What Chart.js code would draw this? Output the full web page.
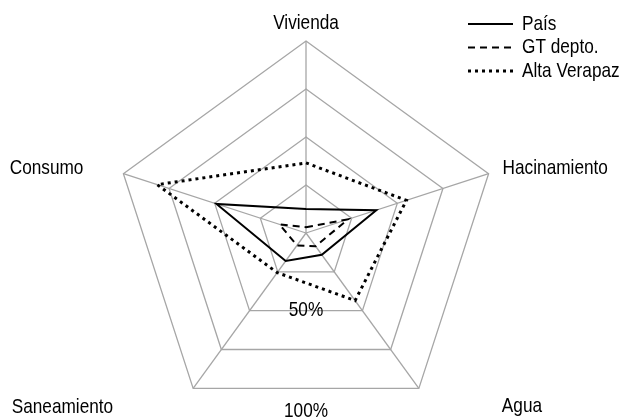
<!DOCTYPE html>
<html>
<head>
<meta charset="utf-8">
<script src="https://cdn.jsdelivr.net/npm/chart.js@4.4.1/dist/chart.umd.min.js"></script>
<style>
  html, body { margin: 0; padding: 0; background: #fff; overflow: hidden; }
  canvas { display: block; }
</style>
</head>
<body>
<canvas id="radar" width="626" height="430"></canvas>
<script>
// Radar: privación por dimensión

const categories = ['Vivienda', 'Hacinamiento', 'Agua', 'Saneamiento', 'Consumo'];
const seriesNames = ['País', 'GT depto.', 'Alta Verapaz'];
const pais = [12.5, 38.5, 14, 18, 49];
const gtDepto = [3, 23, 8.5, 8, 14.5];
const altaVerapaz = [36.5, 55, 43.5, 25.5, 81.5];
const tickValues = [50, 100];
const tickLabels = ['50%', '100%'];

const FONT = '21px "Liberation Sans", Arial, sans-serif';
const NARROW = 0.82; // fake Arial Narrow by squeezing the text
const GRID = '#a6a6a6';

// where the category names sit, relative to each outer vertex
const labelOffsets = [
    { dx: 0, dy: -18, align: 'center' },
    { dx: 14, dy: -5, align: 'left' },
    { dx: 83, dy: 18, align: 'left' },
    { dx: -80, dy: 19, align: 'right' },
    { dx: -40, dy: -5, align: 'right' }
];

function narrowText(ctx, text, x, y) {
    ctx.save();
    ctx.translate(x, y);
    ctx.scale(NARROW, 1);
    ctx.fillText(text, 0, 0);
    ctx.restore();
}

// category names, % labels and legend
const decorations = {
    id: 'decorations',
    afterDraw(chart) {
        const ctx = chart.ctx;
        const r = chart.scales.r;
        ctx.save();
        ctx.font = FONT;
        ctx.fillStyle = '#000';
        ctx.textBaseline = 'middle';

        categories.forEach((name, i) => {
            const p = r.getPointPosition(i, r.drawingArea);
            const o = labelOffsets[i];
            ctx.textAlign = o.align;
            narrowText(ctx, name, p.x + o.dx, p.y + o.dy);
        });

        // percent labels under the bottom edge of the rings
        ctx.textAlign = 'center';
        tickValues.forEach((v, i) => {
            const d = r.getDistanceFromCenterForValue(v) * Math.cos(Math.PI / 5);
            const extra = v === 100 ? 23 : 0;
            narrowText(ctx, tickLabels[i], r.xCenter, r.yCenter + d + extra);
        });

        // legend
        ctx.textAlign = 'left';
        chart.data.datasets.forEach((ds, i) => {
            const y = 24 + i * 23.5;
            ctx.beginPath();
            ctx.lineWidth = ds.borderWidth;
            ctx.setLineDash(ds.borderDash || []);
            ctx.strokeStyle = ds.borderColor;
            ctx.moveTo(468, y);
            ctx.lineTo(513, y);
            ctx.stroke();
            narrowText(ctx, ds.label, 522, y);
        });
        ctx.restore();
    }
};

new Chart(document.getElementById('radar'), {
    type: 'radar',
    data: {
        labels: categories,
        datasets: [
            { label: seriesNames[0], data: pais, borderColor: '#000', borderWidth: 2, borderDash: [] },
            { label: seriesNames[1], data: gtDepto, borderColor: '#000', borderWidth: 2, borderDash: [7, 5] },
            { label: seriesNames[2], data: altaVerapaz, borderColor: '#000', borderWidth: 3, borderDash: [3, 4] }
        ]
    },
    options: {
        responsive: false,
        animation: false,
        layout: { padding: { left: 114, right: 128, top: 41, bottom: 5 } },
        elements: {
            line: { fill: false, tension: 0 },
            point: { radius: 0, hoverRadius: 0 }
        },
        plugins: {
            legend: { display: false },
            tooltip: { enabled: false }
        },
        scales: {
            r: {
                min: 0,
                max: 100,
                ticks: { stepSize: 25, display: false },
                pointLabels: { display: false },
                grid: { color: GRID, lineWidth: 1.3 },
                angleLines: { color: GRID, lineWidth: 1.3 }
            }
        }
    },
    plugins: [decorations]
});
</script>
</body>
</html>
